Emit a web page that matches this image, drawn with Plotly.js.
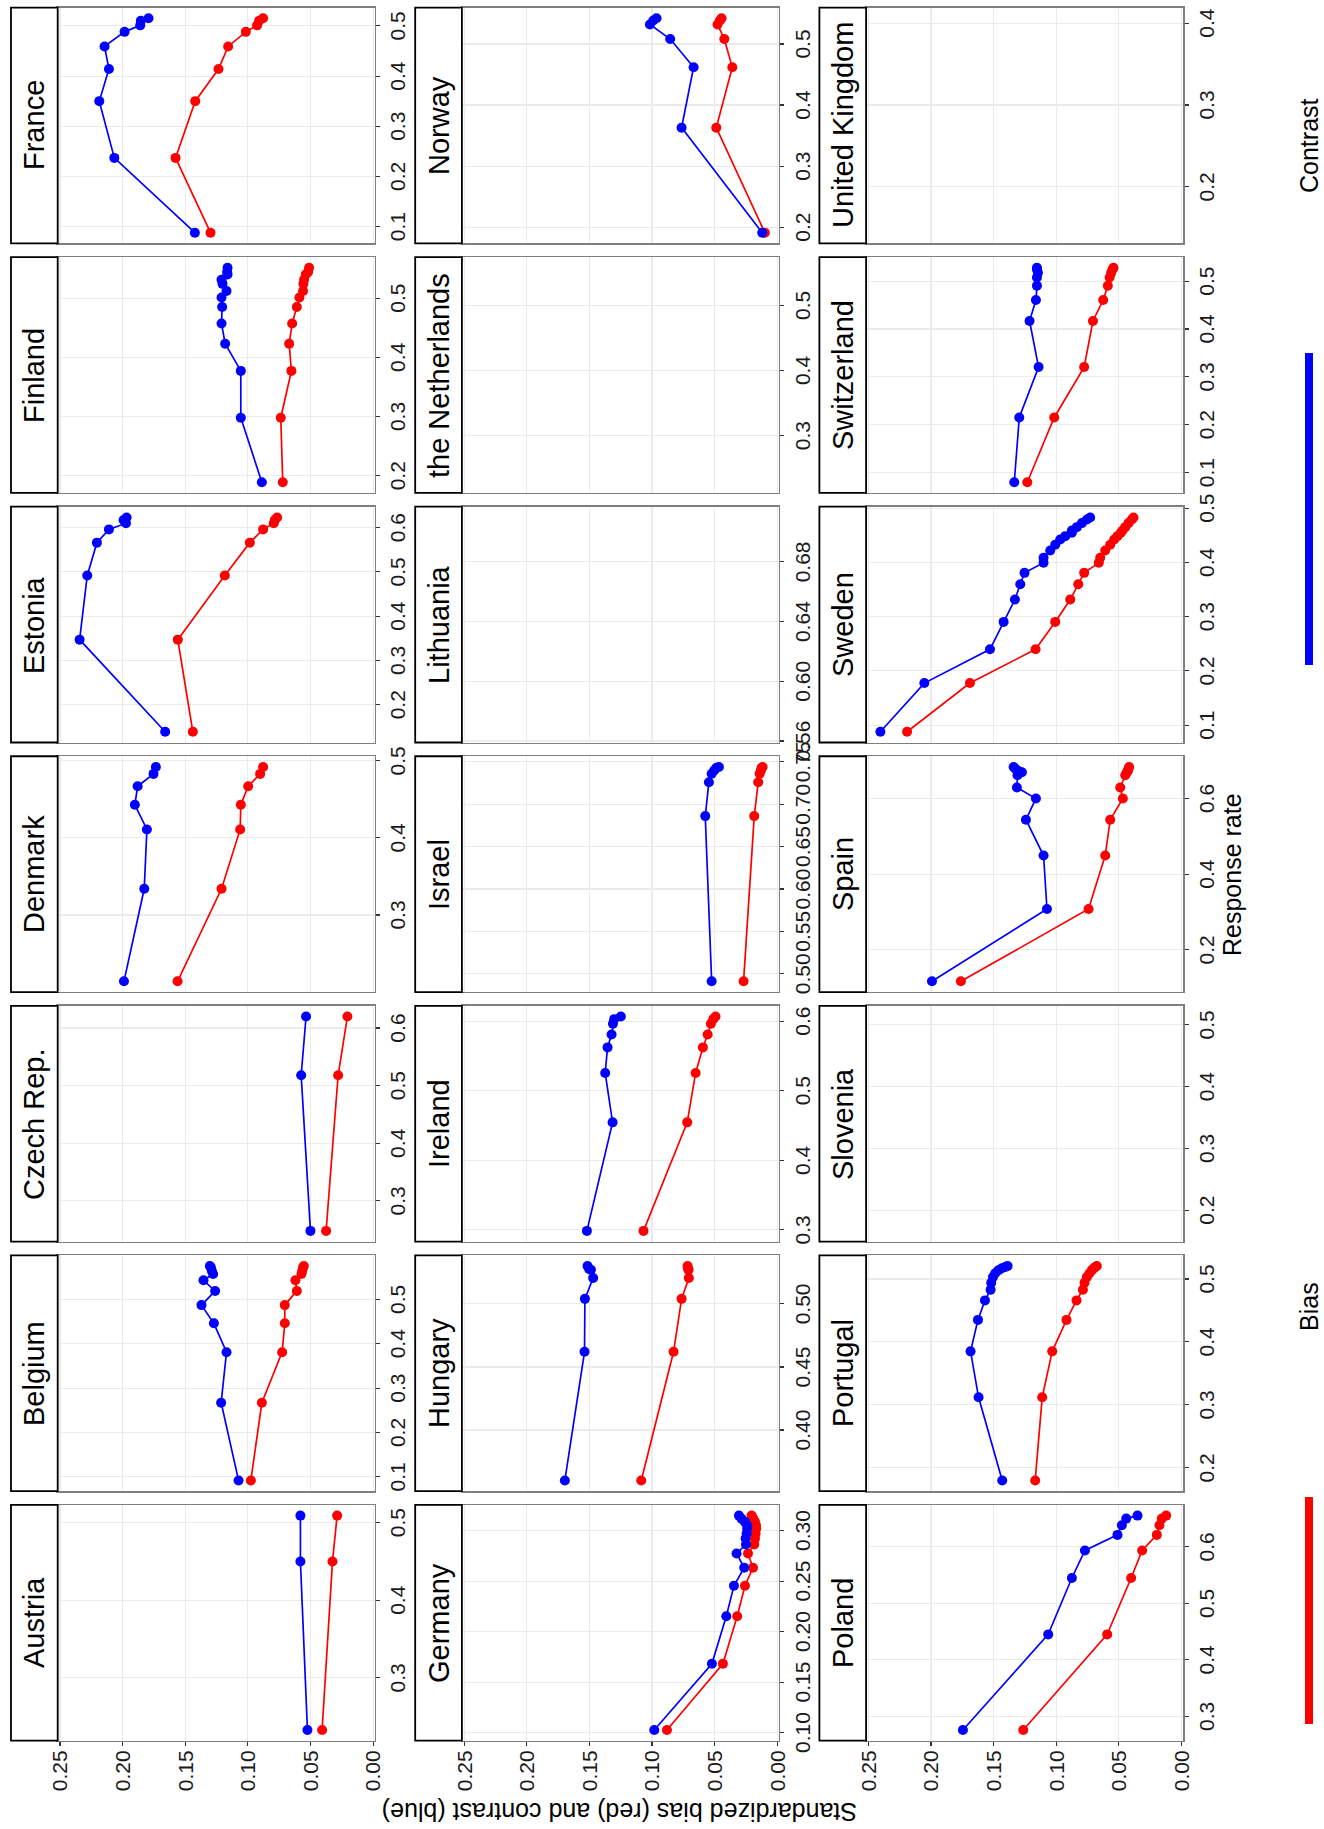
<!DOCTYPE html>
<html><head><meta charset="utf-8">
<script src="https://cdn.plot.ly/plotly-3.0.1.min.js"></script>
<style>
html,body{margin:0;padding:0;overflow:hidden;width:1324px;height:1829px;background:#fff;}
#wrap{position:absolute;left:0;top:0;width:1324px;height:1829px;overflow:hidden;}
#chart{position:absolute;left:0;top:0;width:1829px;height:1324px;transform-origin:0 0;transform:translate(0px,1829px) rotate(-90deg);}
</style></head><body><div id="wrap"><div id="chart"></div></div>
<script>
// ---- facet order (facet_wrap, 3 rows x 7 columns) ----
const countries = ["Austria","Belgium","Czech Rep.","Denmark","Estonia","Finland","France",
  "Germany","Hungary","Ireland","Israel","Lithuania","the Netherlands","Norway",
  "Poland","Portugal","Slovenia","Spain","Sweden","Switzerland","United Kingdom"];

// ---- data: response rate, standardized bias (red), contrast (blue) ----
const austriaRate = [0.233, 0.450, 0.509];
const austriaBias = [0.0407, 0.0324, 0.0287];
const austriaContrast = [0.0524, 0.0580, 0.0580];

const belgiumRate = [0.092, 0.267, 0.381, 0.446, 0.487, 0.519, 0.543, 0.557, 0.564, 0.572, 0.575];
const belgiumBias = [0.0976, 0.0888, 0.0726, 0.0705, 0.0705, 0.0609, 0.0620, 0.0572, 0.0566, 0.0559, 0.0553];
const belgiumContrast = [0.1074, 0.1213, 0.1170, 0.1271, 0.1370, 0.1261, 0.1354, 0.1277, 0.1287, 0.1295, 0.1303];

const czechRate = [0.248, 0.518, 0.620];
const czechBias = [0.0375, 0.0279, 0.0205];
const czechContrast = [0.0500, 0.0574, 0.0535];

const denmarkRate = [0.214, 0.334, 0.411, 0.443, 0.467, 0.483, 0.492];
const denmarkBias = [0.1561, 0.1210, 0.1061, 0.1056, 0.0997, 0.0902, 0.0878];
const denmarkContrast = [0.1989, 0.1827, 0.1806, 0.1902, 0.1880, 0.1753, 0.1734];

const estoniaRate = [0.139, 0.347, 0.492, 0.566, 0.596, 0.610, 0.617, 0.623];
const estoniaBias = [0.1439, 0.1559, 0.1184, 0.0984, 0.0878, 0.0793, 0.0785, 0.0766];
const estoniaContrast = [0.1660, 0.2343, 0.2282, 0.2205, 0.2109, 0.1973, 0.1992, 0.1968];

const finlandRate = [0.189, 0.298, 0.377, 0.423, 0.457, 0.485, 0.501, 0.512, 0.524, 0.531, 0.540, 0.544, 0.551];
const finlandBias = [0.0721, 0.0737, 0.0652, 0.0670, 0.0646, 0.0609, 0.0588, 0.0559, 0.0556, 0.0551, 0.0537, 0.0519, 0.0511];
const finlandContrast = [0.0888, 0.1056, 0.1056, 0.1181, 0.1210, 0.1205, 0.1210, 0.1170, 0.1202, 0.1210, 0.1162, 0.1165, 0.1162];

const franceRate = [0.088, 0.237, 0.350, 0.414, 0.459, 0.488, 0.501, 0.510, 0.515];
const franceBias = [0.1298, 0.1577, 0.1420, 0.1234, 0.1157, 0.1016, 0.0926, 0.0910, 0.0878];
const franceContrast = [0.1423, 0.2066, 0.2186, 0.2109, 0.2144, 0.1984, 0.1859, 0.1854, 0.1793];

const germanyRate = [0.1026, 0.1681, 0.2151, 0.2454, 0.2632, 0.2773, 0.2862, 0.2921, 0.2970, 0.3020, 0.3053, 0.3086, 0.3118, 0.3148];
const germanyBias = [0.0881, 0.0434, 0.0320, 0.0258, 0.0194, 0.0234, 0.0184, 0.0178, 0.0173, 0.0168, 0.0170, 0.0178, 0.0192, 0.0205];
const germanyContrast = [0.0982, 0.0522, 0.0407, 0.0346, 0.0264, 0.0325, 0.0250, 0.0253, 0.0245, 0.0240, 0.0240, 0.0258, 0.0285, 0.0306];

const hungaryRate = [0.360, 0.462, 0.504, 0.5205, 0.527, 0.528, 0.530];
const hungaryBias = [0.1086, 0.0828, 0.0764, 0.0706, 0.0708, 0.0714, 0.0716];
const hungaryContrast = [0.1696, 0.1539, 0.1536, 0.1470, 0.1488, 0.1504, 0.1515];

const irelandRate = [0.2986, 0.4546, 0.5256, 0.5623, 0.5809, 0.5962, 0.6029, 0.6067];
const irelandBias = [0.1068, 0.0719, 0.0652, 0.0594, 0.0556, 0.0530, 0.0511, 0.0493];
const irelandContrast = [0.1520, 0.1315, 0.1374, 0.1355, 0.1323, 0.1312, 0.1302, 0.1249];

const israelRate = [0.491, 0.686, 0.726, 0.736, 0.740, 0.743, 0.744];
const israelBias = [0.0269, 0.0184, 0.0152, 0.0141, 0.0130, 0.0125, 0.0117];
const israelContrast = [0.0524, 0.0575, 0.0546, 0.0524, 0.0503, 0.0485, 0.0466];

const norwayRate = [0.191, 0.363, 0.462, 0.508, 0.532, 0.5385, 0.542];
const norwayBias = [0.0099, 0.0487, 0.0359, 0.0423, 0.0477, 0.0458, 0.0445];
const norwayContrast = [0.0120, 0.0764, 0.0668, 0.0855, 0.1017, 0.0990, 0.0964];

const polandRate = [0.2759, 0.4450, 0.5448, 0.5935, 0.6211, 0.6382, 0.6499, 0.6552];
const polandBias = [0.1263, 0.0593, 0.0402, 0.0314, 0.0197, 0.0176, 0.0157, 0.0122];
const polandContrast = [0.1745, 0.1064, 0.0875, 0.0771, 0.0511, 0.0476, 0.0441, 0.0351];

const portugalRate = [0.180, 0.312, 0.385, 0.435, 0.466, 0.483, 0.494, 0.503, 0.509, 0.514, 0.517, 0.519, 0.5205];
const portugalBias = [0.1168, 0.1112, 0.1032, 0.0918, 0.0838, 0.0787, 0.0774, 0.0755, 0.0734, 0.0715, 0.0702, 0.0686, 0.0676];
const portugalContrast = [0.1431, 0.1620, 0.1684, 0.1625, 0.1569, 0.1524, 0.1519, 0.1505, 0.1487, 0.1460, 0.1434, 0.1407, 0.1388];

const spainRate = [0.1167, 0.3079, 0.4491, 0.5439, 0.600, 0.6289, 0.6614, 0.6693, 0.6728, 0.679, 0.6833];
const spainBias = [0.1761, 0.0742, 0.0609, 0.0569, 0.0468, 0.0489, 0.0449, 0.0436, 0.0428, 0.0423, 0.0418];
const spainContrast = [0.1992, 0.1074, 0.1101, 0.1242, 0.1162, 0.1314, 0.1309, 0.1274, 0.1301, 0.1327, 0.1340];

const swedenRate = [0.0877, 0.1775, 0.2397, 0.2902, 0.3314, 0.3597, 0.3806, 0.3991, 0.4083, 0.4218, 0.4323, 0.4422, 0.4483, 0.4545, 0.4588, 0.4649, 0.4723, 0.4791, 0.4828];
const swedenBias = [0.2191, 0.1689, 0.1165, 0.1008, 0.0888, 0.0824, 0.0777, 0.0660, 0.0649, 0.0609, 0.0569, 0.0537, 0.0511, 0.0484, 0.0471, 0.0449, 0.0423, 0.0396, 0.0383];
const swedenContrast = [0.2404, 0.2053, 0.1529, 0.1420, 0.1330, 0.1287, 0.1253, 0.1101, 0.1101, 0.1048, 0.1008, 0.0968, 0.0928, 0.0875, 0.0875, 0.0835, 0.0795, 0.0755, 0.0729];

const switzerlandRate = [0.080, 0.2152, 0.3205, 0.4168, 0.4605, 0.4903, 0.5076, 0.5173, 0.5243, 0.5277];
const switzerlandBias = [0.1231, 0.1016, 0.0777, 0.0707, 0.0625, 0.0588, 0.0574, 0.0561, 0.0551, 0.0543];
const switzerlandContrast = [0.1335, 0.1295, 0.1141, 0.1213, 0.1162, 0.1154, 0.1154, 0.1146, 0.1154, 0.1154];

// panels without points: x range of the (empty) free scale
const emptyRanges = {"Lithuania":[0.559,0.717],"the Netherlands":[0.212,0.574],"Slovenia":[0.149,0.531],"United Kingdom":[0.131,0.419]};

// tick settings of the free x scales
const xTickStep = {"Germany":0.05,"Hungary":0.05,"Israel":0.05,"Lithuania":0.04,"Spain":0.2};
const xTickFmt = {"Germany":".2f","Hungary":".2f","Israel":".2f","Lithuania":".2f"};

const yTicks = [0, 0.05, 0.10, 0.15, 0.20, 0.25];
const yRange = [-0.0013, 0.2518];

const legendLabels = ["Bias", "Contrast"];
const seriesColors = ["#FF0000", "#0000FF"];

// table for the library
const series = {
  "Austria":[austriaRate,austriaBias,austriaContrast],
  "Belgium":[belgiumRate,belgiumBias,belgiumContrast],
  "Czech Rep.":[czechRate,czechBias,czechContrast],
  "Denmark":[denmarkRate,denmarkBias,denmarkContrast],
  "Estonia":[estoniaRate,estoniaBias,estoniaContrast],
  "Finland":[finlandRate,finlandBias,finlandContrast],
  "France":[franceRate,franceBias,franceContrast],
  "Germany":[germanyRate,germanyBias,germanyContrast],
  "Hungary":[hungaryRate,hungaryBias,hungaryContrast],
  "Ireland":[irelandRate,irelandBias,irelandContrast],
  "Israel":[israelRate,israelBias,israelContrast],
  "Norway":[norwayRate,norwayBias,norwayContrast],
  "Poland":[polandRate,polandBias,polandContrast],
  "Portugal":[portugalRate,portugalBias,portugalContrast],
  "Spain":[spainRate,spainBias,spainContrast],
  "Sweden":[swedenRate,swedenBias,swedenContrast],
  "Switzerland":[switzerlandRate,switzerlandBias,switzerlandContrast]
};

// ---- geometry (drawn landscape, then the page rotates it a quarter turn) ----
const W = 1829, H = 1324;
const colLeft0 = 88.3, colPitch = 249.55, panelW = 235.8;
const rowTop0 = 57.7, rowPitch = 404.2, panelH = 317.0, stripH = 46.7;
const FONT = '"Liberation Sans", Arial, Helvetica, sans-serif';
const TICK_SIZE = 21;

const px = v => v / W;
const py = v => 1 - v / H;

const traces = [];
const layout = {
  width: W, height: H,
  margin: {l:0, r:0, t:0, b:0},
  paper_bgcolor: '#ffffff', plot_bgcolor: '#ffffff',
  showlegend: false,
  font: {family: FONT, color: '#000'},
  shapes: [], annotations: []
};

countries.forEach((name, idx) => {
  const k = idx + 1;
  const row = Math.floor(idx / 7), col = idx % 7;
  const left = colLeft0 + col * colPitch;
  const top = rowTop0 + row * rowPitch;
  const xName = 'xaxis' + (k === 1 ? '' : k);
  const yName = 'yaxis' + (k === 1 ? '' : k);
  const xRef = 'x' + (k === 1 ? '' : k);
  const yRef = 'y' + (k === 1 ? '' : k);

  let range;
  const d = series[name];
  if (d) {
    const all = d[0];
    const mn = Math.min(...all), mx = Math.max(...all);
    const pad = 0.05 * (mx - mn);
    range = [mn - pad, mx + pad];
    // bias (red) then contrast (blue)
    [1, 2].forEach(s => {
      traces.push({
        type: 'scatter', mode: 'lines+markers',
        x: d[0], y: d[s], xaxis: xRef, yaxis: yRef,
        name: legendLabels[s - 1],
        line: {color: seriesColors[s - 1], width: 1.7},
        marker: {color: seriesColors[s - 1], size: 10},
        cliponaxis: false, hoverinfo: 'skip'
      });
    });
  } else {
    range = emptyRanges[name];
    traces.push({type:'scatter', mode:'markers', x:[], y:[], xaxis:xRef, yaxis:yRef, hoverinfo:'skip'});
  }

  layout[xName] = {
    domain: [px(left), px(left + panelW)],
    anchor: yRef, range: range, autorange: false,
    tickmode: 'linear', tick0: 0, dtick: xTickStep[name] || 0.1,
    tickformat: xTickFmt[name] || '.1f', tickangle: 0,
    showgrid: true, gridcolor: '#EBEBEB', gridwidth: 1.1, zeroline: false,
    showline: true, mirror: true, linecolor: '#7F7F7F', linewidth: 1.4,
    ticks: 'outside', ticklen: 4, tickwidth: 1.1, tickcolor: '#333333',
    tickfont: {family: FONT, size: TICK_SIZE, color: '#1a1a1a'}, fixedrange: true
  };
  layout[yName] = {
    domain: [py(top + panelH), py(top)],
    anchor: xRef, range: yRange, autorange: false,
    tickmode: 'array', tickvals: yTicks, tickformat: '.2f', tickangle: 0,
    showticklabels: col === 0, ticks: col === 0 ? 'outside' : '',
    ticklen: 4, tickwidth: 1.1, tickcolor: '#333333',
    showgrid: true, gridcolor: '#EBEBEB', gridwidth: 1.1, zeroline: false,
    showline: true, mirror: true, linecolor: '#7F7F7F', linewidth: 1.4,
    tickfont: {family: FONT, size: TICK_SIZE, color: '#1a1a1a'}, fixedrange: true
  };

  // facet strip
  layout.shapes.push({
    type: 'rect', xref: 'paper', yref: 'paper',
    x0: px(left), x1: px(left + panelW), y0: py(top), y1: py(top - stripH),
    fillcolor: '#ffffff', line: {color: '#000000', width: 1.8}, layer: 'above'
  });
  layout.annotations.push({
    xref: 'paper', yref: 'paper', x: px(left + panelW / 2), y: py(top - stripH / 2),
    text: name, showarrow: false, xanchor: 'center', yanchor: 'middle',
    font: {family: FONT, size: 29, color: '#000'}
  });
});

// axis titles
layout.annotations.push({
  xref: 'paper', yref: 'paper', x: px(17), y: py(620), textangle: -90,
  text: 'Standardized bias (red) and contrast (blue)', showarrow: false,
  xanchor: 'center', yanchor: 'middle', font: {family: FONT, size: 25, color: '#000'}
});
layout.annotations.push({
  xref: 'paper', yref: 'paper', x: px(955), y: py(1232),
  text: 'Response rate', showarrow: false,
  xanchor: 'center', yanchor: 'middle', font: {family: FONT, size: 25, color: '#000'}
});

// legend (long line keys)
const legendKeys = [[105, 332, 522.5], [1164, 1476, 1683]];
legendKeys.forEach((kk, i) => {
  layout.shapes.push({
    type: 'line', xref: 'paper', yref: 'paper',
    x0: px(kk[0]), x1: px(kk[1]), y0: py(1309), y1: py(1309),
    line: {color: seriesColors[i], width: 8}
  });
  layout.annotations.push({
    xref: 'paper', yref: 'paper', x: px(kk[2]), y: py(1309),
    text: legendLabels[i], showarrow: false, xanchor: 'center', yanchor: 'middle',
    font: {family: FONT, size: 25, color: '#000'}
  });
});

Plotly.newPlot('chart', traces, layout, {staticPlot: true, displayModeBar: false, responsive: false});
</script></body></html>
